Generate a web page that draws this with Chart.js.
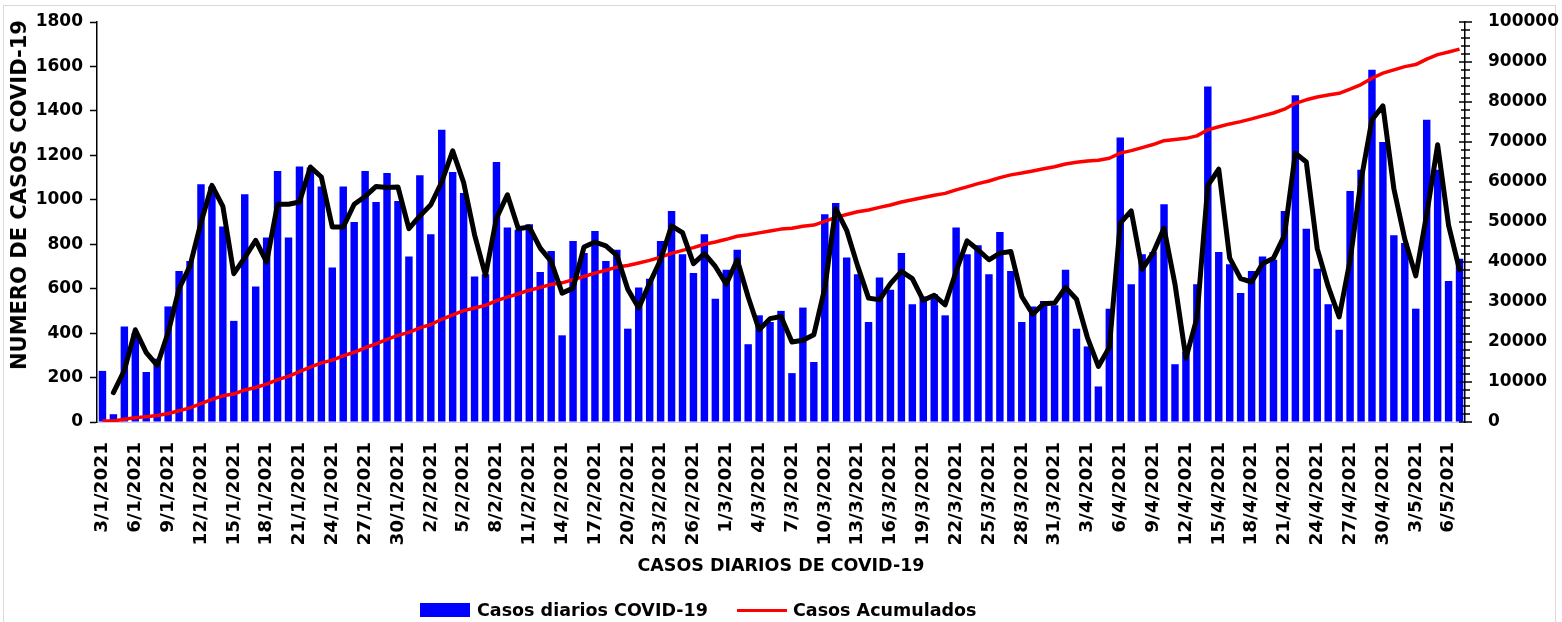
<!DOCTYPE html>
<html>
<head>
<meta charset="utf-8">
<script src="https://cdn.jsdelivr.net/npm/chart.js@4.4.1/dist/chart.umd.min.js"></script>
<style>
html,body{margin:0;padding:0;background:#fff;}
#wrap{position:relative;width:1562px;height:622px;overflow:hidden;background:#fff;}
#frame{position:absolute;left:3px;top:5px;width:1553px;height:640px;border:1px solid #d9d9d9;box-sizing:border-box;}
#c{position:absolute;left:0;top:0;}
#ytitle{position:absolute;left:19px;top:195px;transform:translate(-50%,-50%) rotate(-90deg);white-space:nowrap;font:bold 21px "DejaVu Sans";color:#000;}
.lg{position:absolute;font:bold 17.5px "DejaVu Sans";color:#000;line-height:20px;top:600px;white-space:nowrap;}
#lgbox{position:absolute;left:420px;top:603px;width:50px;height:14px;background:#0000ff;}
#lgline{position:absolute;left:737px;top:608.5px;width:50px;height:3px;background:#ff0000;}
</style>
</head>
<body>
<div id="wrap">
<div id="frame"></div>
<canvas id="c" width="1562" height="622"></canvas>
<div id="ytitle">NUMERO DE CASOS COVID-19</div>
<div id="lgbox"></div><div class="lg" style="left:477px">Casos diarios COVID-19</div>
<div id="lgline"></div><div class="lg" style="left:793px">Casos Acumulados</div>
</div>
<script>
const dates = [
"3/1/2021","4/1/2021","5/1/2021","6/1/2021","7/1/2021","8/1/2021","9/1/2021","10/1/2021","11/1/2021","12/1/2021",
"13/1/2021","14/1/2021","15/1/2021","16/1/2021","17/1/2021","18/1/2021","19/1/2021","20/1/2021","21/1/2021","22/1/2021",
"23/1/2021","24/1/2021","25/1/2021","26/1/2021","27/1/2021","28/1/2021","29/1/2021","30/1/2021","31/1/2021",
"1/2/2021","2/2/2021","3/2/2021","4/2/2021","5/2/2021","6/2/2021","7/2/2021","8/2/2021","9/2/2021","10/2/2021",
"11/2/2021","12/2/2021","13/2/2021","14/2/2021","15/2/2021","16/2/2021","17/2/2021","18/2/2021","19/2/2021","20/2/2021",
"21/2/2021","22/2/2021","23/2/2021","24/2/2021","25/2/2021","26/2/2021","27/2/2021","28/2/2021",
"1/3/2021","2/3/2021","3/3/2021","4/3/2021","5/3/2021","6/3/2021","7/3/2021","8/3/2021","9/3/2021","10/3/2021",
"11/3/2021","12/3/2021","13/3/2021","14/3/2021","15/3/2021","16/3/2021","17/3/2021","18/3/2021","19/3/2021","20/3/2021",
"21/3/2021","22/3/2021","23/3/2021","24/3/2021","25/3/2021","26/3/2021","27/3/2021","28/3/2021","29/3/2021","30/3/2021","31/3/2021",
"1/4/2021","2/4/2021","3/4/2021","4/4/2021","5/4/2021","6/4/2021","7/4/2021","8/4/2021","9/4/2021","10/4/2021",
"11/4/2021","12/4/2021","13/4/2021","14/4/2021","15/4/2021","16/4/2021","17/4/2021","18/4/2021","19/4/2021","20/4/2021",
"21/4/2021","22/4/2021","23/4/2021","24/4/2021","25/4/2021","26/4/2021","27/4/2021","28/4/2021","29/4/2021","30/4/2021",
"1/5/2021","2/5/2021","3/5/2021","4/5/2021","5/5/2021","6/5/2021","7/5/2021"
];

const dailyCases = [
230,35,430,400,225,285,520,680,725,1070,
1060,880,455,1025,610,830,1130,830,1150,1145,
1060,695,1060,900,1130,990,1120,995,745,1110,
845,1315,1125,1030,655,665,1170,875,865,890,
675,770,390,815,760,860,725,775,420,605,
645,815,950,755,670,845,555,685,775,350,
480,450,500,220,515,270,935,985,740,665,
450,650,595,760,530,565,575,480,875,755,
795,665,855,680,450,520,545,525,685,420,
340,160,510,1280,620,755,765,980,260,315,
620,1510,765,710,580,680,745,730,950,1470,
870,690,530,415,1040,1135,1585,1260,840,805,
510,1360,1135,635,735
];

// two-day moving average line (black)
const movingAvg = [
null,132.5,232.5,415,312.5,255,402.5,600,702.5,897.5,
1065,970,667.5,740,817.5,720,980,980,990,1147.5,
1102.5,877.5,877.5,980,1015,1060,1055,1057.5,870,927.5,
977.5,1080,1220,1077.5,842.5,660,917.5,1022.5,870,877.5,
782.5,722.5,580,602.5,787.5,810,792.5,750,597.5,512.5,
625,730,882.5,852.5,712.5,757.5,700,620,730,562.5,
415,465,475,360,367.5,392.5,602.5,960,862.5,702.5,
557.5,550,622.5,677.5,645,547.5,570,527.5,677.5,815,
775,730,760,767.5,565,485,532.5,535,605,552.5,
380,250,335,895,950,687.5,760,872.5,620,287.5,
467.5,1065,1137.5,737.5,645,630,712.5,737.5,840,1210,
1170,780,610,472.5,727.5,1087.5,1360,1422.5,1050,822.5,
657.5,935,1247.5,885,685
];

const cumulativeCases = [
230,265,695,1095,1320,1605,2125,2805,3530,4600,
5660,6540,6995,8020,8630,9460,10590,11420,12570,13715,
14775,15470,16530,17430,18560,19550,20670,21665,22410,23520,
24365,25680,26805,27835,28490,29155,30325,31200,32065,32955,
33630,34400,34790,35605,36365,37225,37950,38725,39145,39750,
40395,41210,42160,42915,43585,44430,44985,45670,46445,46795,
47275,47725,48225,48445,48960,49230,50165,51150,51890,52555,
53005,53655,54250,55010,55540,56105,56680,57160,58035,58790,
59585,60250,61105,61785,62235,62755,63300,63825,64510,64930,
65270,65430,65940,67220,67840,68595,69360,70340,70600,70915,
71535,73045,73810,74520,75100,75780,76525,77255,78205,79675,
80545,81235,81765,82180,83220,84355,85940,87200,88040,88845,
89355,90715,91850,92485,93220
];

const leftAxisRange = [0, 1800, 200];
const rightAxisRange = [0, 100000, 10000];
const rightMinorStep = 2000;
const labelEvery = 3;

const tickFont = {family:'DejaVu Sans', size:17, weight:'bold'};

const rightTicks = {
  id:'rightTicks',
  afterDraw(chart){
    const s = chart.scales.y1, ctx = chart.ctx, x = s.left;
    ctx.save();
    ctx.strokeStyle = '#000';
    ctx.lineWidth = 1.5;
    for (let v = rightAxisRange[0]; v <= rightAxisRange[1]; v += rightMinorStep) {
      const y = s.getPixelForValue(v);
      const major = v % rightAxisRange[2] === 0;
      ctx.beginPath();
      ctx.moveTo(x - (major ? 6 : 4), y);
      ctx.lineTo(x + (major ? 7 : 5), y);
      ctx.stroke();
    }
    ctx.restore();
  }
};

new Chart(document.getElementById('c'), {
  data: {
    labels: dates,
    datasets: [
      {type:'line', label:'Promedio', data: movingAvg, yAxisID:'y', borderColor:'#000', borderWidth:5,
       pointRadius:0, borderJoinStyle:'round', borderCapStyle:'round', order:0, tension:0},
      {type:'line', label:'Casos Acumulados', data: cumulativeCases, yAxisID:'y1', borderColor:'#ff0000', borderWidth:3.5,
       pointRadius:0, borderJoinStyle:'round', order:1, tension:0},
      {type:'bar', label:'Casos diarios COVID-19', data: dailyCases, yAxisID:'y', backgroundColor:'#0000ff',
       barPercentage:0.68, categoryPercentage:1.0, order:2}
    ]
  },
  options: {
    responsive:false,
    animation:false,
    layout:{padding:{top:22, left:0, right:0, bottom:0}},
    plugins:{legend:{display:false}, tooltip:{enabled:false}},
    scales:{
      x:{
        type:'category', offset:true,
        grid:{display:false},
        border:{display:true, color:'#c8c8e6', width:1},
        ticks:{autoSkip:false, maxRotation:90, minRotation:90, padding:12, color:'#000',
               font:{family:'DejaVu Sans', size:18.5, weight:'bold'},
               callback:(v,i)=> i % labelEvery === 0 ? dates[i] : ''},
        title:{display:true, text:'CASOS DIARIOS DE COVID-19', color:'#000',
               font:{family:'DejaVu Sans', size:17.5, weight:'bold'}, padding:{top:0,bottom:45}},
        afterFit:(s)=>{ s.height = 200; }
      },
      y:{
        position:'left', min:leftAxisRange[0], max:leftAxisRange[1],
        ticks:{stepSize:leftAxisRange[2], color:'#000', font:tickFont, padding:7, callback:(v)=>String(v)},
        grid:{display:true, drawOnChartArea:false, drawTicks:true, tickLength:7, color:'#000', tickWidth:1.5},
        border:{display:true, color:'#000', width:1.5},
        afterFit:(s)=>{ s.width = 97; }
      },
      y1:{
        position:'right', min:rightAxisRange[0], max:rightAxisRange[1],
        ticks:{stepSize:rightAxisRange[2], color:'#000', font:tickFont, padding:7, callback:(v)=>String(v)},
        grid:{display:true, drawOnChartArea:false, drawTicks:true, tickLength:16, color:'rgba(0,0,0,0)'},
        border:{display:true, color:'#000', width:1.5},
        afterFit:(s)=>{ s.width = 97; }
      }
    }
  },
  plugins:[rightTicks]
});
</script>
</body>
</html>
